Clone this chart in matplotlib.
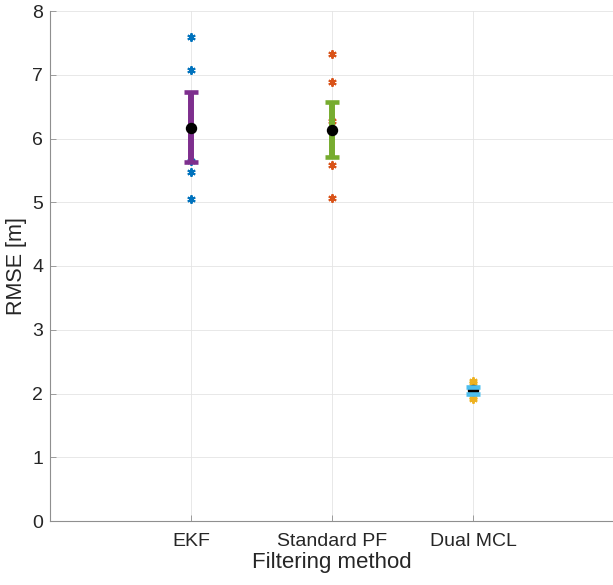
import matplotlib
matplotlib.use("Agg")
import matplotlib.pyplot as plt

plt.rcParams['font.family'] = ['Liberation Sans', 'DejaVu Sans']

methods = ["EKF", "Standard PF", "Dual MCL"]
ekf_runs = [7.60, 7.08, 5.65, 5.47, 5.05]
pf_runs = [7.32, 6.89, 6.28, 5.58, 5.06]
mcl_runs = [2.19, 2.16, 2.06, 1.95, 1.92]
means = [6.17, 6.13, 2.05]
err_low = [5.63, 5.71, 2.00]
err_high = [6.73, 6.57, 2.10]
yticks = [0, 1, 2, 3, 4, 5, 6, 7, 8]

point_colors = ["#0072BD", "#D95319", "#EDB120"]
bar_colors = ["#7E2F8E", "#77AC30", "#4DBEEE"]
text_color = "#262626"

fig = plt.figure(figsize=(6.13, 5.85), dpi=100)
ax = fig.add_axes([50/613, 64/585, 1 - 50/613 + 0.002, 510/585])

runs = [ekf_runs, pf_runs, mcl_runs]
xs = [1, 2, 3]
for i, (x, r) in enumerate(zip(xs, runs)):
    ax.plot([x]*len(r), r, linestyle='none', marker=(6, 2, 0), markersize=6,
            markeredgewidth=1.4, color=point_colors[i], zorder=2)
    m = means[i]
    lo = m - err_low[i]
    hi = err_high[i] - m
    dl, caps, bars = ax.errorbar([x], [m], yerr=[[lo], [hi]], fmt='none',
                                 ecolor=bar_colors[i], elinewidth=4.3,
                                 capsize=4.9, capthick=3.3, zorder=3)
    ax.plot([x], [m], marker='o', markersize=7.2, color='black',
            linestyle='none', zorder=4)
    for c in caps:
        c.set_zorder(5)

ax.set_xlim(0, 4)
ax.set_ylim(0, 8)
ax.set_xticks(xs)
ax.set_xticklabels(methods)
ax.set_yticks(yticks)
ax.set_yticklabels([str(v) for v in yticks])
ax.grid(True, color='#e4e4e4', linewidth=0.6, zorder=0)
ax.set_axisbelow(True)

for s in ['top', 'right']:
    ax.spines[s].set_visible(False)
for s in ['left', 'bottom']:
    ax.spines[s].set_color('#8f8f8f')
    ax.spines[s].set_linewidth(0.8)

ax.tick_params(axis='both', direction='in', length=4, width=0.6,
               colors='#8f8f8f', labelcolor=text_color, labelsize=14)
ax.tick_params(axis='x', pad=9)
ax.tick_params(axis='y', pad=5)

ax.set_xlabel("Filtering method", fontsize=16, color=text_color, labelpad=1)
ax.set_ylabel("RMSE [m]", fontsize=15.5, color=text_color)
ax.yaxis.set_label_coords(-0.040, 0.5)

fig.savefig("out.png", dpi=100)
